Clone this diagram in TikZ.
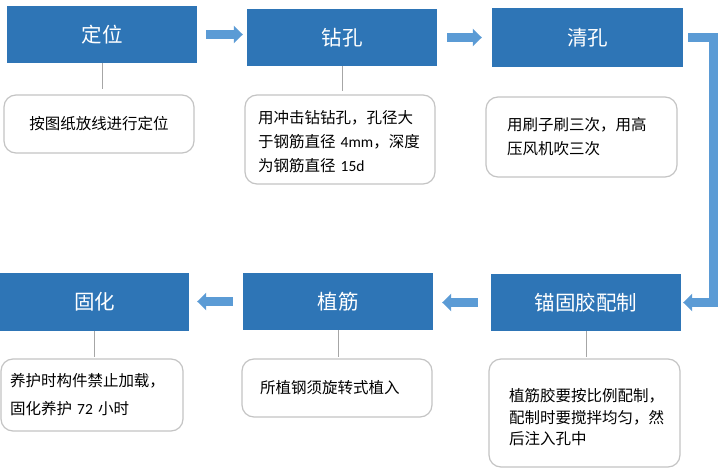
\documentclass[tikz,border=0pt]{standalone}
\usepackage{fontspec}
\setmainfont{Noto Sans CJK SC}
\newfontfamily\lat{Carlito}
\usetikzlibrary{arrows.meta}
\definecolor{stepblue}{HTML}{2E75B6}
\definecolor{arrowblue}{HTML}{5B9BD5}
\definecolor{noteborder}{HTML}{C4C4C4}
\definecolor{linkgray}{HTML}{A6A6A6}
\tikzset{
  stepbox/.style={rectangle, fill=stepblue, text=white, minimum width=190pt, minimum height=57pt, inner sep=0pt, font=\fontsize{20.5}{24}\selectfont},
  notebox/.style={rectangle, draw=noteborder, line width=1.2pt, rounded corners=12pt, fill=white, align=left, inner ysep=0pt},
  linkline/.style={draw=linkgray, line width=1pt},
  flowarrow/.style={draw=arrowblue, line width=8.5pt, -{Triangle[width=17pt,length=9pt]}}
}
\begin{document}
\begin{tikzpicture}[x=1pt,y=-1pt]
\useasboundingbox (0,0) rectangle (726,471);
\fill[white] (0,0) rectangle (726,471);
% step boxes
\node[stepbox] (s1) at (102,34.5) {定位};
\node[stepbox] (s2) at (342,37.5) {钻孔};
\node[stepbox, minimum width=191pt, minimum height=59pt] (s3) at (587.5,37.5) {清孔};
\node[stepbox] (s4) at (586,302.5) {锚固胶配制};
\node[stepbox] (s5) at (338,301.5) {植筋};
\node[stepbox, minimum width=189pt, minimum height=58pt] (s6) at (94.5,302) {固化};
% notes
\node[notebox, minimum width=190pt, minimum height=58pt, align=center, font=\fontsize{15.5}{24}\selectfont] (n1) at (99,124) {按图纸放线进行定位};
\node[notebox, minimum height=89pt, inner xsep=13pt, text width=164pt, font=\fontsize{15.5}{24}\selectfont] (n2) at (340,139.5) {\rule{0pt}{17.6pt}用冲击钻钻孔，孔径大\\于钢筋直径 {\lat 4mm}，深度\\为钢筋直径 {\lat 15d}};
\node[notebox, minimum height=80pt, inner xsep=21pt, text width=149pt, font=\fontsize{15.5}{24}\selectfont] (n3) at (581.5,137) {用刷子刷三次，用高\\压风机吹三次};
\node[notebox, minimum height=72pt, inner xsep=9pt, text width=164pt, font=\fontsize{15.5}{28}\selectfont] (n4) at (92,395) {养护时构件禁止加载，\\固化养护 {\lat 72} 小时};
\node[notebox, minimum height=58pt, inner xsep=18pt, text width=154pt, font=\fontsize{15.5}{24}\selectfont] (n5) at (337,388) {所植钢须旋转式植入};
\node[notebox, minimum height=108pt, inner xsep=20pt, text width=151pt, font=\fontsize{15.5}{21.5}\selectfont] (n6) at (584.5,413) {\rule{0pt}{21.6pt}植筋胶要按比例配制，\\配制时要搅拌均匀，然\\后注入孔中};
% links
\draw[linkline, shorten >=5pt] (s1.south) -- (s1.south |- n1.north);
\draw[linkline, shorten >=3pt] (s2.south) -- (s2.south |- n2.north);
\draw[linkline, shorten >=1pt] (s4.south) -- (s4.south |- n6.north);
\draw[linkline, shorten >=1pt] (s5.south) -- (s5.south |- n5.north);
\draw[linkline, shorten >=1pt] (s6.south) -- (s6.south |- n4.north);
% flow arrows
\draw[flowarrow, shorten <=9pt, shorten >=4pt] (s1.east) -- (s1.east -| s2.west);
\draw[flowarrow, shorten <=10pt, shorten >=10pt] (s2.east) -- (s2.east -| s3.west);
\draw[flowarrow, shorten <=5pt, shorten >=2pt] (s3.east) -- ++(30.5,0) |- (s4.east);
\draw[flowarrow, shorten <=13pt, shorten >=9pt] (s4.west) -- (s4.west -| s5.east);
\draw[flowarrow, shorten <=10pt, shorten >=8pt] (s5.west) -- (s5.west -| s6.east);
\end{tikzpicture}
\end{document}
